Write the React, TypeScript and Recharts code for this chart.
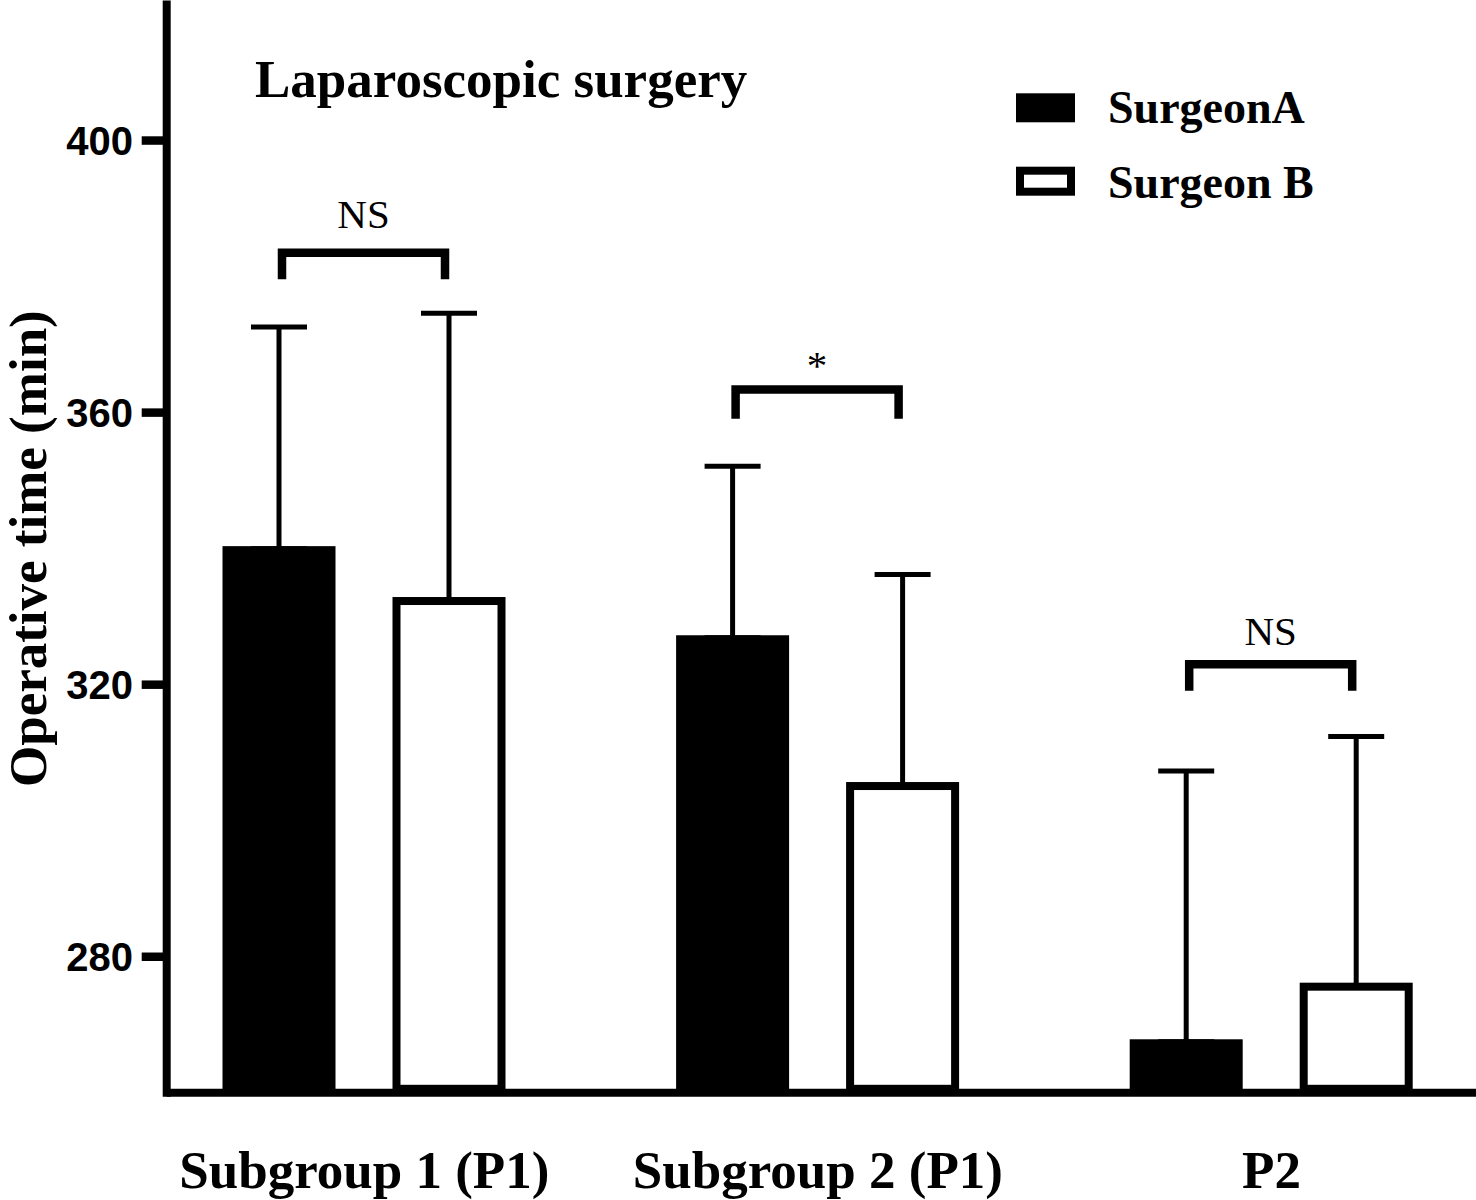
import React from "react";
import {
  Bar,
  BarChart,
  Customized,
  ErrorBar,
  Legend,
  XAxis,
  YAxis,
} from "recharts";

// values (min)
const categories = ["Subgroup 1 (P1)", "Subgroup 2 (P1)", "P2"];
const surgeonAMean = [340.0, 326.9, 267.5];
const surgeonASD = [32.6, 25.2, 39.8];
const surgeonBMean = [332.3, 305.1, 275.6];
const surgeonBSD = [42.3, 31.1, 36.8];

// significance brackets between the two surgeons, in axis units
const sigLabels = ["NS", "*", "NS"];
const bracketTop = [383.5, 363.4, 323.0];
const bracketFoot = [379.6, 359.1, 319.1];
const sigTextLevel = [387.1, 364.9, 325.8];

const yTicks = [280, 320, 360, 400];
const Y_MIN = 260;
const Y_MAX = 420;

const BAR_SIZE = 113;
const BAR_GAP = 57;
const CAP_STROKE = 5;
const SERIF = "'Liberation Serif', 'Times New Roman', serif";
const SANS = "'Liberation Sans', Arial, sans-serif";

const data = categories.map((name, i) => ({
  name,
  a: surgeonAMean[i],
  aErr: [0, surgeonASD[i]],
  b: surgeonBMean[i],
  bErr: [0, surgeonBSD[i]],
}));

// solid bar for surgeon A; grows by half a cap so the zero cap of the error bar is hidden
const SolidBar = (props: any) => {
  const { x, y, width, height } = props;
  return (
    <rect
      x={x}
      y={y - CAP_STROKE / 2}
      width={width}
      height={height + CAP_STROKE / 2}
      fill="#000"
    />
  );
};

// open bar for surgeon B, plus the bracket over the pair
const OutlinedBar = (props: any) => {
  const { x, y, width, height, index, payload } = props;
  const sw = 8;
  const pxPerUnit = height / (payload.b - Y_MIN);
  const yOf = (v: number) => y - (v - payload.b) * pxPerUnit;

  const centerB = x + width / 2;
  const left = centerB - (BAR_SIZE + BAR_GAP) + 3;
  const right = centerB - 4;
  const top = yOf(bracketTop[index]);
  const foot = yOf(bracketFoot[index]);

  return (
    <g>
      <rect
        x={x + sw / 2}
        y={y}
        width={width - sw}
        height={height - sw / 2}
        fill="#fff"
        stroke="#000"
        strokeWidth={sw}
      />
      <path
        d={`M${left},${foot} V${top} H${right} V${foot}`}
        fill="none"
        stroke="#000"
        strokeWidth={8.5}
        strokeLinejoin="miter"
      />
      <text
        x={(left + right) / 2}
        y={yOf(sigTextLevel[index])}
        textAnchor="middle"
        fontFamily={SERIF}
        fontSize={41}
        fill="#000"
      >
        {sigLabels[index]}
      </text>
    </g>
  );
};

const XTick = (props: any) => {
  const { x, y, payload } = props;
  return (
    <text
      x={x}
      y={y}
      dy={95.2}
      textAnchor="middle"
      fontFamily={SERIF}
      fontWeight={700}
      fontSize={53}
      fill="#000"
    >
      {payload.value}
    </text>
  );
};

const YLabel = (props: any) => {
  const vb = props.viewBox || { x: 0, y: 0, width: 0, height: 0 };
  const lx = vb.x + 46;
  const cy = vb.y + vb.height / 2;
  return (
    <text
      x={lx}
      y={cy}
      transform={`rotate(-90, ${lx}, ${cy})`}
      textAnchor="middle"
      fontFamily={SERIF}
      fontWeight={700}
      fontSize={53}
      fill="#000"
    >
      Operative time (min)
    </text>
  );
};

const LegendContent = (props: any) => {
  const items = [...(props.payload || [])].sort((p: any, q: any) =>
    String(p.dataKey).localeCompare(String(q.dataKey))
  );
  return (
    <svg width={400} height={150} style={{ display: "block", overflow: "visible" }}>
      {items.map((entry: any, i: number) => (
        <g key={String(entry.dataKey)}>
          <rect
            x={4}
            y={27.3 + i * 73.4}
            width={51}
            height={21}
            fill={entry.color}
            stroke="#000"
            strokeWidth={8}
          />
          <text
            x={92}
            y={52.5 + i * 75}
            fontFamily={SERIF}
            fontWeight={700}
            fontSize={46}
            fill="#000"
          >
            {entry.value}
          </text>
        </g>
      ))}
    </svg>
  );
};

const Title = () => (
  <text
    x={255}
    y={97}
    fontFamily={SERIF}
    fontWeight={700}
    fontSize={53}
    fill="#000"
  >
    Laparoscopic surgery
  </text>
);

export default function App() {
  return (
    <div
      style={{
        position: "absolute",
        left: 0,
        top: 0,
        width: 1476,
        height: 1200,
        overflow: "hidden",
        background: "#fff",
      }}
    >
      <BarChart
        width={1520}
        height={1200}
        data={data}
        margin={{ top: 4.5, right: 21.7, bottom: 0, left: 0 }}
        barSize={BAR_SIZE}
        barGap={BAR_GAP}
      >
        <XAxis
          dataKey="name"
          type="category"
          interval={0}
          padding={{ left: -29.2, right: 0 }}
          height={107.2}
          axisLine={{ stroke: "#000", strokeWidth: 8 }}
          tickLine={false}
          tickSize={0}
          tickMargin={0}
          tick={<XTick />}
        />
        <YAxis
          type="number"
          domain={[Y_MIN, Y_MAX]}
          ticks={yTicks}
          interval={0}
          width={166.7}
          axisLine={{ stroke: "#000", strokeWidth: 8, strokeLinecap: "square" }}
          tickLine={{ stroke: "#000", strokeWidth: 8.5 }}
          tickSize={25}
          tickMargin={8.7}
          tick={{ fill: "#000", fontSize: 40, fontWeight: 700, fontFamily: SANS }}
          label={<YLabel />}
        />
        <Bar
          dataKey="a"
          name="SurgeonA"
          fill="#000"
          shape={SolidBar}
          isAnimationActive={false}
        >
          <ErrorBar dataKey="aErr" width={28} stroke="#000" strokeWidth={CAP_STROKE} />
        </Bar>
        <Bar
          dataKey="b"
          name="Surgeon B"
          fill="#fff"
          stroke="#000"
          shape={OutlinedBar}
          isAnimationActive={false}
        >
          <ErrorBar dataKey="bErr" width={28} stroke="#000" strokeWidth={CAP_STROKE} />
        </Bar>
        <Legend
          layout="horizontal"
          verticalAlign="middle"
          align="center"
          itemSorter="dataKey"
          wrapperStyle={{ left: 1016, top: 70, width: 400, height: 150 }}
          content={<LegendContent />}
        />
        <Customized component={<Title />} />
      </BarChart>
    </div>
  );
}
